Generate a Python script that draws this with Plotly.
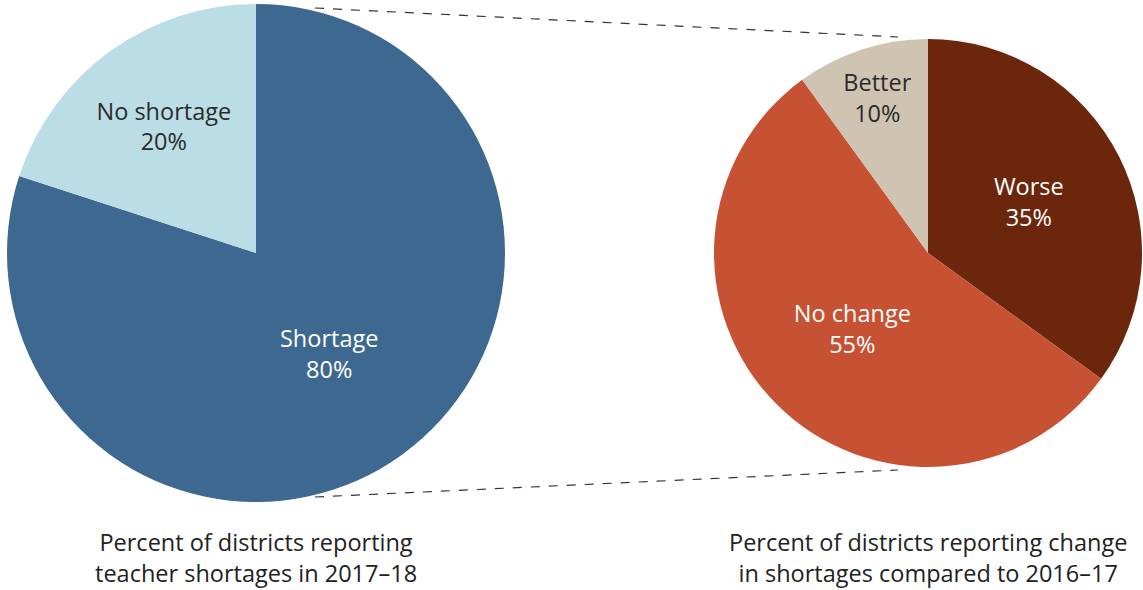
import plotly.graph_objects as go

W, H = 1143, 590

left_labels = ["Shortage", "No shortage"]
left_values = [80, 20]
left_colors = ["#3d6990", "#badde6"]
left_textcolors = ["#ffffff", "#2b2b2b"]

right_labels = ["Worse", "No change", "Better"]
right_values = [35, 55, 10]
right_colors = ["#6b260c", "#c65233", "#cfc4b1"]
right_textcolors = ["#ffffff", "#ffffff", "#2b2b2b"]

left_title = "Percent of districts reporting<br>teacher shortages in 2017–18"
right_title = "Percent of districts reporting change<br>in shortages compared to 2016–17"

FONT = "Open Sans, Liberation Sans, sans-serif"
FS = 23.5

def px_x(x):
    return x / W

def px_y(y):
    return 1 - y / H

fig = go.Figure()

fig.add_trace(go.Pie(
    labels=left_labels, values=left_values,
    marker=dict(colors=left_colors, line=dict(width=0)),
    sort=False, direction="clockwise", rotation=0,
    textinfo="label+percent", texttemplate="%{label}<br>%{percent:.0%}",
    textposition="inside", insidetextorientation="horizontal",
    insidetextfont=dict(color=left_textcolors, size=FS, family=FONT),
    domain=dict(x=[px_x(7), px_x(505)], y=[px_y(502), px_y(4)]),
    showlegend=False, hoverinfo="label+percent",
))

fig.add_trace(go.Pie(
    labels=right_labels, values=right_values,
    marker=dict(colors=right_colors, line=dict(width=0)),
    sort=False, direction="clockwise", rotation=0,
    textinfo="label+percent", texttemplate="%{label}<br>%{percent:.0%}",
    textposition="inside", insidetextorientation="horizontal",
    insidetextfont=dict(color=right_textcolors, size=FS, family=FONT),
    domain=dict(x=[px_x(714), px_x(1142)], y=[px_y(467), px_y(39)]),
    showlegend=False, hoverinfo="label+percent",
))

# dashed connector lines
for (x0, y0, x1, y1) in [(315, 8, 898, 37), (315, 497, 898, 470)]:
    fig.add_shape(type="line", xref="paper", yref="paper",
                  x0=px_x(x0), y0=px_y(y0), x1=px_x(x1), y1=px_y(y1),
                  line=dict(color="#333333", width=1.2, dash="dash"))

fig.add_annotation(text=left_title, xref="paper", yref="paper",
                   x=px_x(256), y=px_y(557), xanchor="center", yanchor="middle",
                   showarrow=False, align="center",
                   font=dict(size=FS, color="#222222", family=FONT))
fig.add_annotation(text=right_title, xref="paper", yref="paper",
                   x=px_x(928), y=px_y(557), xanchor="center", yanchor="middle",
                   showarrow=False, align="center",
                   font=dict(size=FS, color="#222222", family=FONT))

fig.update_layout(width=W, height=H, margin=dict(l=0, r=0, t=0, b=0),
                  paper_bgcolor="white", plot_bgcolor="white",
                  font=dict(family=FONT))

fig.write_html("out.html", config={"displayModeBar": False},
               post_script="document.body.style.margin='0';document.body.style.overflow='hidden';")
